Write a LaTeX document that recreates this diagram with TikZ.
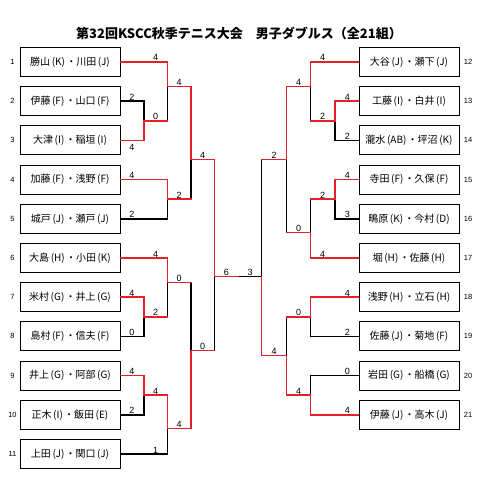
\documentclass[tikz,border=0pt]{standalone}
\usepackage{fontspec}
\newfontfamily\jp{Noto Sans CJK JP}
\newfontfamily\ar{Liberation Sans}
\definecolor{wred}{RGB}{228,32,42}
\newcommand{\pp}[1]{\hspace{1.6pt}(#1)\hspace{1.2pt}}
\begin{document}
\begin{tikzpicture}[x=1pt,y=-1pt,
  team/.style={draw,line width=0.9pt,minimum width=100pt,minimum height=29pt,inner sep=0pt,font=\jp\fontsize{10}{11}\selectfont},
  seed/.style={font=\ar\fontsize{7.5}{8}\selectfont,inner sep=0pt},
  score/.style={font=\ar\fontsize{9}{10}\selectfont,inner sep=0.8pt,anchor=south},
  scoreb/.style={font=\ar\fontsize{9}{10}\selectfont,inner sep=3.5pt,anchor=north},
  win/.style={draw=wred,line width=1.5pt,line cap=rect},
  lose/.style={draw=black,line width=1.5pt,line cap=rect},
  titlestyle/.style={font=\jp\bfseries\fontsize{13}{15}\selectfont,inner sep=0pt}]
\useasboundingbox (0,0) rectangle (480,487);
\node[titlestyle] (T) at (239,33) {第32回KSCC秋季テニス大会　男子ダブルス（全21組）};
% left teams
\node[team] (L1) at (70,62) {勝山\pp{K}・川田\pp{J}};
\node[team] (L2) at (70,101.2) {伊藤\pp{F}・山口\pp{F}};
\node[team] (L3) at (70,140.4) {大津\pp{I}・稲垣\pp{I}};
\node[team] (L4) at (70,179.6) {加藤\pp{F}・浅野\pp{F}};
\node[team] (L5) at (70,218.8) {城戸\pp{J}・瀬戸\pp{J}};
\node[team] (L6) at (70,258) {大島\pp{H}・小田\pp{K}};
\node[team] (L7) at (70,297.2) {米村\pp{G}・井上\pp{G}};
\node[team] (L8) at (70,336.4) {島村\pp{F}・信夫\pp{F}};
\node[team] (L9) at (70,375.6) {井上\pp{G}・阿部\pp{G}};
\node[team] (L10) at (70,414.8) {正木\pp{I}・飯田\pp{E}};
\node[team] (L11) at (70,454) {上田\pp{J}・関口\pp{J}};
% right teams
\node[team] (R12) at (409,62) {大谷\pp{J}・瀬下\pp{J}};
\node[team] (R13) at (409,101.2) {工藤\pp{I}・白井\pp{I}};
\node[team] (R14) at (409,140.4) {瀧水\pp{AB}・坪沼\pp{K}};
\node[team] (R15) at (409,179.6) {寺田\pp{F}・久保\pp{F}};
\node[team] (R16) at (409,218.8) {鴫原\pp{K}・今村\pp{D}};
\node[team] (R17) at (409,258) {堀\pp{H}・佐藤\pp{H}};
\node[team] (R18) at (409,297.2) {浅野\pp{H}・立石\pp{H}};
\node[team] (R19) at (409,336.4) {佐藤\pp{J}・菊地\pp{F}};
\node[team] (R20) at (409,375.6) {岩田\pp{G}・船橋\pp{G}};
\node[team] (R21) at (409,414.8) {伊藤\pp{J}・高木\pp{J}};
% seed numbers
\foreach \i/\y in {1/62,2/101.2,3/140.4,4/179.6,5/218.8,6/258,7/297.2,8/336.4,9/375.6,10/414.8,11/454}
  \node[seed] (n\i) at (12.5,\y) {\i};
\foreach \i/\y in {12/62,13/101.2,14/140.4,15/179.6,16/218.8,17/258,18/297.2,19/336.4,20/375.6,21/414.8}
  \node[seed] (n\i) at (468,\y) {\i};
% junctions left
\coordinate (a23) at (144,120.8);
\coordinate (a1) at (167.5,86.7);
\coordinate (a45) at (167.5,199.2);
\coordinate (aT) at (191,159.3);
\coordinate (a78) at (144,316.8);
\coordinate (a6) at (167.5,282.7);
\coordinate (a910) at (144,395.2);
\coordinate (a11) at (167.5,428.3);
\coordinate (aB) at (191,350.7);
\coordinate (aF) at (214.5,276.7);
\coordinate (ctr) at (238,276.7);
% junctions right
\coordinate (b1314) at (335,120.8);
\coordinate (b12) at (310.7,86.7);
\coordinate (b1516) at (335,199.2);
\coordinate (b17) at (310.7,232.3);
\coordinate (bT) at (286.3,159.3);
\coordinate (b1819) at (310.7,316.8);
\coordinate (b2021) at (310.7,395.2);
\coordinate (bB) at (286.3,355.7);
\coordinate (bF) at (261.7,276.7);
% left lines
\path[lose] (L2.east) -| (a23);
\path[win] (L3.east) -| (a23);
\path[lose] (a23 -| a1) -- (a1);
\path[win] (a23) -- (a23 -| a1);
\path[win] (L1.east) -| (a1);
\path[lose] (L5.east) -| (a45);
\path[win] (L4.east) -| (a45);
\path[lose] (a45 -| aT) -- (aT);
\path[win] (a45) -- (a45 -| aT);
\path[win] (a1) -| (aT);
\path[win] (aT) -| (aF);
\path[lose] (L8.east) -| (a78);
\path[win] (L7.east) -| (a78);
\path[lose] (a78 -| a6) -- (a6);
\path[win] (a78) -- (a78 -| a6);
\path[win] (L6.east) -| (a6);
\path[lose] (L10.east) -| (a910);
\path[win] (L9.east) -| (a910);
\path[lose] (L11.east) -| (a11);
\path[win] (a910) -| (a11);
\path[lose] (a6 -| aB) -- (aB);
\path[win] (a6) -- (a6 -| aB);
\path[win] (a11) -| (aB);
\path[lose] (aB -| aF) -- (aF);
\path[win] (aB) -- (aB -| aF);
\path[lose] (bF) -- (ctr);
\path[win] (aF) -- (ctr);
% right lines
\path[lose] (R14.west) -| (b1314);
\path[win] (R13.west) -| (b1314);
\path[lose] (b1314 -| b12) -- (b12);
\path[win] (b1314) -- (b1314 -| b12);
\path[win] (R12.west) -| (b12);
\path[lose] (R16.west) -| (b1516);
\path[win] (R15.west) -| (b1516);
\path[lose] (b1516 -| b17) -- (b17);
\path[win] (b1516) -- (b1516 -| b17);
\path[win] (R17.west) -| (b17);
\path[lose] (b17 -| bT) -- (bT);
\path[win] (b17) -- (b17 -| bT);
\path[win] (b12) -| (bT);
\path[lose] (bT -| bF) -- (bF);
\path[win] (bT) -- (bT -| bF);
\path[lose] (R19.west) -| (b1819);
\path[win] (R18.west) -| (b1819);
\path[lose] (R20.west) -| (b2021);
\path[win] (R21.west) -| (b2021);
\path[lose] (b1819 -| bB) -- (bB);
\path[win] (b1819) -- (b1819 -| bB);
\path[win] (b2021) -| (bB);
\path[win] (bB) -| (bF);
% scores left
\node[score] (s1) at (155.7,62) {4};
\node[score] (s2) at (132,101.2) {2};
\node[scoreb] (s3) at (132,140.4) {4};
\node[score] (s23) at (155.7,120.8) {0};
\node[score] (sa1) at (179.2,86.7) {4};
\node[score] (s4) at (132,179.6) {4};
\node[score] (s5) at (132,218.8) {2};
\node[score] (s45) at (179.2,199.2) {2};
\node[score] (saT) at (202.7,159.3) {4};
\node[score] (s6) at (155.7,258) {4};
\node[score] (s7) at (132,297.2) {4};
\node[score] (s8) at (132,336.4) {0};
\node[score] (s78) at (155.7,316.8) {2};
\node[score] (sa6) at (179.2,282.7) {0};
\node[score] (s9) at (132,375.6) {4};
\node[score] (s10) at (132,414.8) {2};
\node[score] (s910) at (155.7,395.2) {4};
\node[score] (s11) at (155.7,454) {1};
\node[score] (sa11) at (179.2,428.3) {4};
\node[score] (saB) at (202.7,350.7) {0};
\node[score] (sfl) at (226.3,276.7) {6};
\node[score] (sfr) at (250,276.7) {3};
% scores right
\node[score] (s12) at (322.7,62) {4};
\node[score] (s13) at (347.3,101.2) {4};
\node[score] (s14) at (347.3,140.4) {2};
\node[score] (s1314) at (322.7,120.8) {2};
\node[score] (sb12) at (298.5,86.7) {4};
\node[score] (s15) at (347.3,179.6) {4};
\node[score] (s16) at (347.3,218.8) {3};
\node[score] (s1516) at (322.7,199.2) {2};
\node[score] (s17) at (322.7,258) {4};
\node[score] (sb17) at (298.5,232.3) {0};
\node[score] (sbT) at (274,159.3) {2};
\node[score] (s18) at (347.3,297.2) {4};
\node[score] (s19) at (347.3,336.4) {2};
\node[score] (s20) at (347.3,375.6) {0};
\node[score] (s21) at (347.3,414.8) {4};
\node[score] (s1819) at (298.5,316.8) {0};
\node[score] (s2021) at (298.5,395.2) {4};
\node[score] (sbB) at (274,355.7) {4};
\end{tikzpicture}
\end{document}
